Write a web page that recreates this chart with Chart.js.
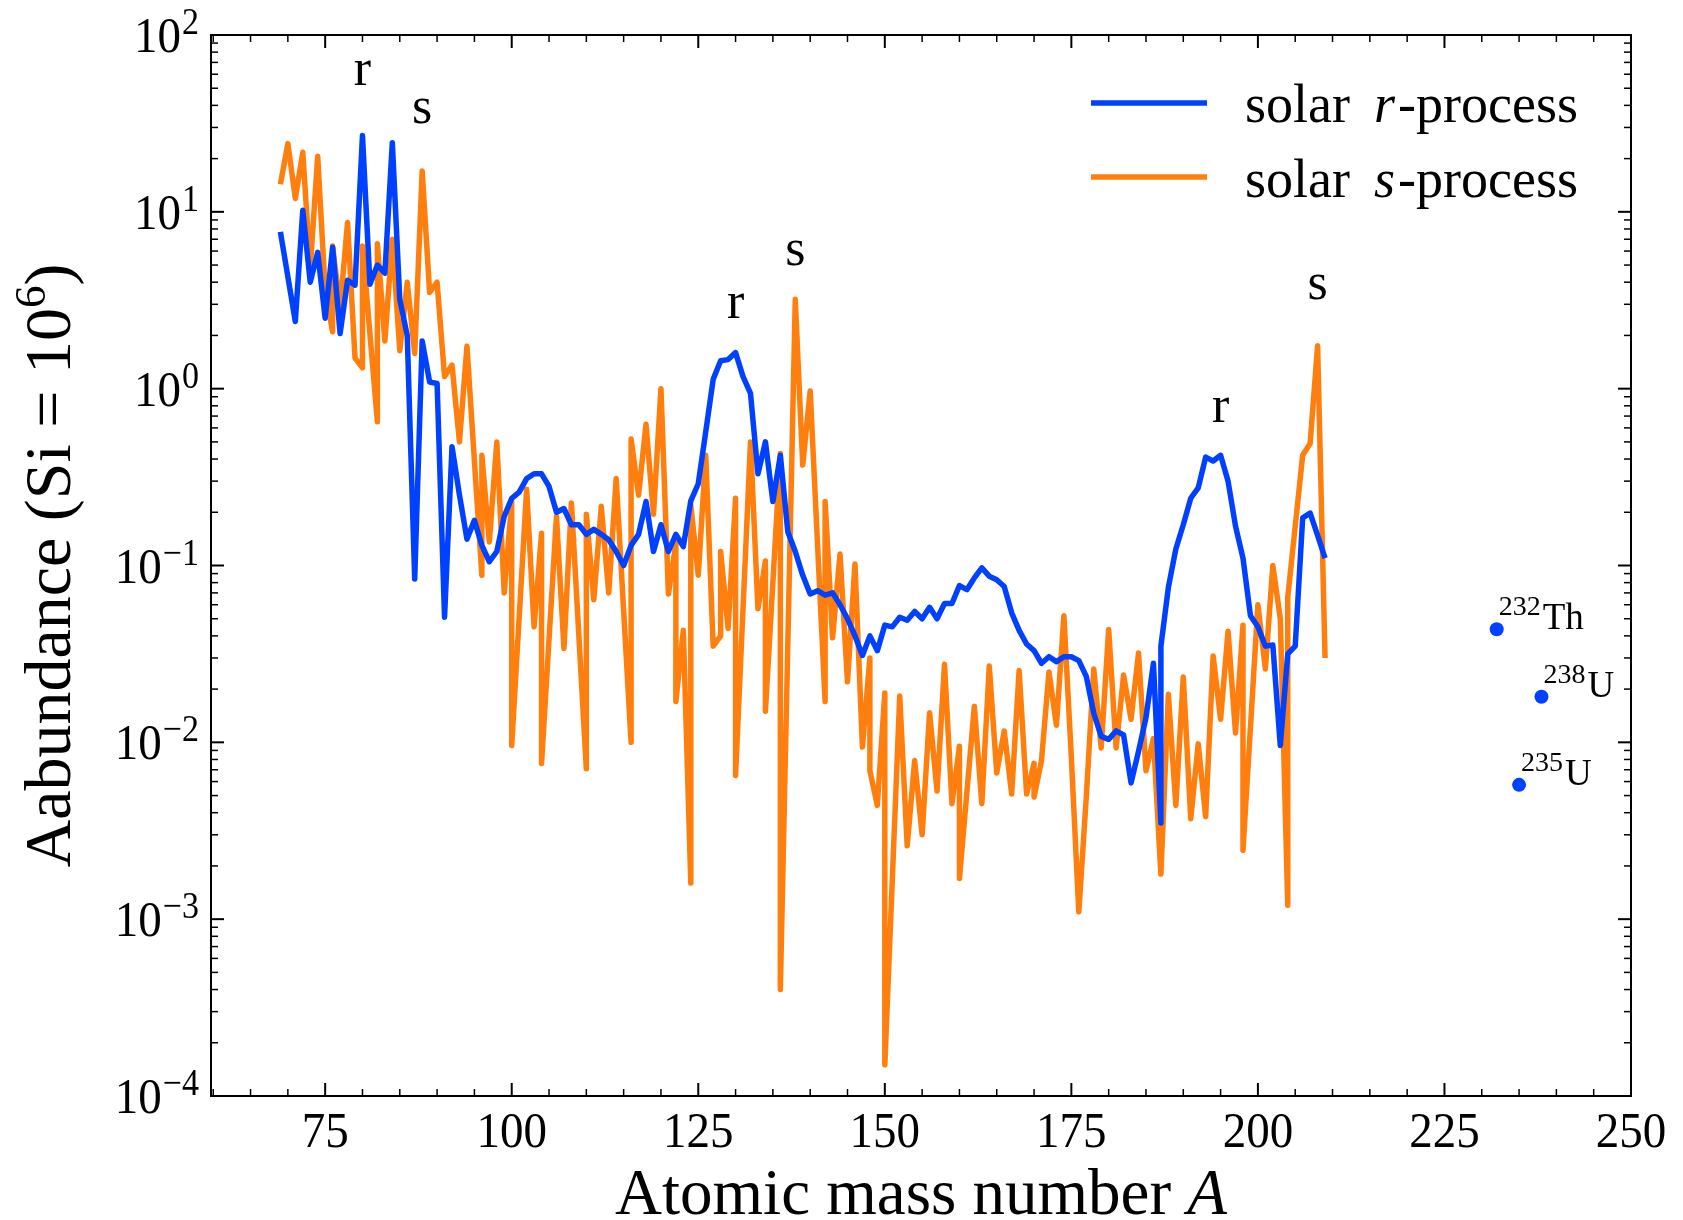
<!DOCTYPE html>
<html>
<head>
<meta charset="utf-8">
<title>Solar r- and s-process abundances</title>
<script src="https://cdn.jsdelivr.net/npm/chart.js@4.4.1/dist/chart.umd.min.js"></script>
<style>
  html, body { margin: 0; padding: 0; background: #fff; }
  canvas { display: block; }
</style>
</head>
<body>
<canvas id="abundances" width="1683" height="1220"></canvas>
<script>
// ===== DATA =====
// solar r-process (isotopes sorted by mass number; repeated A = isobars)
const rMass = [69,71,72,73,74,75,76,77,78,79,80,81,82,83,84,85,86,87,88,
  89,90,91,92,93,94,95,96,97,98,99,100,101,102,103,104,105,106,107,108,
  109,110,111,112,113,114,115,116,117,118,119,120,121,122,123,124,125,126,127,128,
  129,130,131,132,133,134,135,136,137,138,139,140,141,142,143,144,145,146,147,148,
  149,150,151,152,153,154,155,156,157,158,159,160,161,162,163,164,165,166,167,168,
  169,170,171,172,173,174,175,176,177,178,179,180,181,182,183,184,185,186,187,187,188,
  189,190,191,192,193,194,195,196,197,198,199,200,201,202,203,204,205,206,207,208,209];
const rAbund = [7.7,2.4,10.2,4.0,5.9,2.5,6.3,2.05,4.1,3.85,27,3.9,5.0,4.5,24.6,3.2,2.0,0.084,1.86,
  1.09,1.07,0.051,0.47,0.25,0.141,0.18,0.13,0.105,0.12,0.19,0.24,0.26,0.31,0.33,0.33,0.28,0.2,0.21,0.17,
  0.17,0.15,0.16,0.15,0.14,0.12,0.10,0.13,0.15,0.23,0.12,0.17,0.12,0.15,0.128,0.232,0.29,0.57,1.13,1.44,
  1.46,1.6,1.17,0.94,0.33,0.50,0.23,0.42,0.155,0.12,0.088,0.069,0.072,0.068,0.07,0.06,0.05,0.04,0.031,0.04,
  0.033,0.046,0.045,0.051,0.049,0.055,0.05,0.058,0.05,0.061,0.061,0.077,0.073,0.085,0.097,0.087,0.083,0.076,0.054,0.043,
  0.036,0.033,0.028,0.0305,0.0286,0.0305,0.0305,0.029,0.0236,0.0146,0.0108,0.0104,0.0116,0.011,0.0059,0.0089,0.0138,0.028,0.0035,0.035,0.075,
  0.124,0.17,0.24,0.275,0.41,0.39,0.42,0.30,0.167,0.11,0.052,0.045,0.035,0.0355,0.0096,0.0316,0.035,0.186,0.198,0.148,0.11];

// solar s-process
const sMass = [69,70,71,72,73,74,75,76,76,77,78,79,80,80,82,82,83,84,85,86,87,88,
  89,90,91,92,93,94,96,96,97,98,99,100,100,102,103,104,104,106,107,108,
  110,110,111,112,113,114,116,116,117,118,119,120,121,122,122,123,124,124,125,126,127,128,128,
  129,130,130,132,133,134,134,136,136,138,139,140,142,142,143,144,145,146,147,148,148,
  149,150,150,152,153,154,155,156,157,158,159,160,160,162,163,164,165,166,167,168,
  169,170,170,171,172,173,174,175,176,177,178,179,180,181,182,183,184,185,186,187,188,
  189,190,191,192,193,194,195,196,197,198,198,200,201,202,203,204,204,206,207,208,209];
const sAbund = [14.3,24.3,11.9,21.7,4.8,20.6,3.6,2.1,6.4,2.85,8.7,1.49,1.31,6.4,0.65,6.6,1.86,7.0,1.64,4.0,1.58,17,
  3.5,4.0,1.17,1.36,0.5,1.74,0.088,0.42,0.136,0.5,0.07,0.23,0.0096,0.27,0.045,0.152,0.0076,0.19,0.034,0.226,
  0.0071,0.195,0.064,0.216,0.070,0.31,0.010,0.52,0.25,0.63,0.195,1.0,0.069,0.133,0.017,0.043,0.0016,0.22,0.088,0.42,0.035,0.04,0.12,
  0.044,0.24,0.0065,0.5,0.057,0.106,0.015,0.43,0.0004,3.2,0.37,0.97,0.017,0.23,0.039,0.116,0.022,0.102,0.0094,0.030,0.0069,
  0.0044,0.019,0.00015,0.0183,0.0026,0.0079,0.003,0.0147,0.0053,0.0276,0.0045,0.0095,0.0017,0.016,0.0045,0.027,0.0067,0.0116,0.0051,0.0255,
  0.0051,0.0076,0.0049,0.0079,0.025,0.0125,0.052,0.0082,0.0011,0.0049,0.026,0.0093,0.0435,0.0093,0.024,0.0135,0.032,0.0069,0.0105,0.0018,0.0187,
  0.0044,0.0234,0.0037,0.0098,0.0038,0.0308,0.0135,0.0425,0.0113,0.046,0.00245,0.06,0.026,0.10,0.05,0.0012,0.066,0.42,0.49,1.75,0.03];

// long-lived actinides
const actA = [232, 238, 235];
const actAbund = [0.0436, 0.0181, 0.00575];
const actMass = ['232', '238', '235'];
const actSym = ['Th', 'U', 'U'];

// peak markers
const peakA = [80, 88, 130, 138, 195, 208];
const peakY = [52, 32, 2.5, 5, 0.65, 3.2];
const peakTxt = ['r', 's', 'r', 's', 'r', 's'];

// axes
const xTicks = [75, 100, 125, 150, 175, 200, 225, 250];
const yDecades = [-4, -3, -2, -1, 0, 1, 2];

const BLUE = '#0040ff', ORANGE = '#ff7f0e';
const SERIF = '"Liberation Serif", "Times New Roman", serif';
const LW = 5.5;

// ===== TEXT HELPERS =====
function txt(ctx, s, x, y, font, align, sy) {
    ctx.save();
    ctx.font = font;
    ctx.textAlign = align || 'left';
    ctx.textBaseline = 'alphabetic';
    ctx.translate(x, y);
    ctx.scale(1, sy || 1);
    ctx.fillText(s, 0, 0);
    ctx.restore();
}
function tw(ctx, s, font) {
    ctx.save(); ctx.font = font;
    const w = ctx.measureText(s).width;
    ctx.restore(); return w;
}
function seg(ctx, x1, y1, x2, y2) {
    ctx.beginPath(); ctx.moveTo(x1, y1); ctx.lineTo(x2, y2); ctx.stroke();
}

// ===== FRAME, TICKS, LABELS, LEGEND =====
const decorations = {
    id: 'decorations',
    afterDatasetsDraw(chart) {
        const {ctx, chartArea: a, scales: {x, y}} = chart;
        ctx.save();
        ctx.fillStyle = '#000';
        ctx.strokeStyle = '#000';

        // r / s peak labels
        peakTxt.forEach((t, i) => txt(ctx, t, x.getPixelForValue(peakA[i]), y.getPixelForValue(peakY[i]), '52px ' + SERIF, 'center'));

        // actinide labels
        actA.forEach((A, i) => {
            const px = x.getPixelForValue(A), py = y.getPixelForValue(actAbund[i]);
            const supF = '28px ' + SERIF, symF = '37px ' + SERIF;
            txt(ctx, actMass[i], px + 2, py - 14, supF);
            txt(ctx, actSym[i], px + 4 + tw(ctx, actMass[i], supF), py, symF);
        });

        // frame
        ctx.lineWidth = 2;
        ctx.strokeRect(a.left, a.top, a.right - a.left, a.bottom - a.top);

        // x ticks (inside, mirrored)
        for (let v = 60; v <= 250; v += 5) {
            const px = x.getPixelForValue(v);
            const major = xTicks.includes(v);
            const len = major ? 13 : 7;
            ctx.lineWidth = major ? 2 : 1.5;
            seg(ctx, px, a.bottom, px, a.bottom - len);
            seg(ctx, px, a.top, px, a.top + len);
        }
        // y ticks
        yDecades.forEach(d => {
            const py = y.getPixelForValue(Math.pow(10, d));
            ctx.lineWidth = 2;
            seg(ctx, a.left, py, a.left + 13, py);
            seg(ctx, a.right, py, a.right - 13, py);
            if (d < 2) {
                ctx.lineWidth = 1.5;
                for (let m = 2; m <= 9; m++) {
                    const pm = y.getPixelForValue(m * Math.pow(10, d));
                    seg(ctx, a.left, pm, a.left + 7, pm);
                    seg(ctx, a.right, pm, a.right - 7, pm);
                }
            }
        });

        // x tick labels
        xTicks.forEach(v => txt(ctx, String(v), x.getPixelForValue(v), 1147, '47px ' + SERIF, 'center', 1.1));

        // y tick labels 10^d
        yDecades.forEach(d => {
            const py = y.getPixelForValue(Math.pow(10, d));
            const sup = d < 0 ? '\u2212' + (-d) : String(d);
            const supF = '34px ' + SERIF, baseF = '47px ' + SERIF;
            const right = a.left - 12;
            const sw = tw(ctx, sup, supF);
            txt(ctx, sup, right - sw, py - 1, supF, 'left', 1.1);
            txt(ctx, '10', right - sw - 1, py + 17, baseF, 'right', 1.1);
        });

        // axis titles
        const tF = '65px ' + SERIF;
        const p1 = 'Atomic mass number ';
        const w1 = tw(ctx, p1, tF), w2 = tw(ctx, 'A', 'italic ' + tF);
        const cx = (a.left + a.right) / 2;
        txt(ctx, p1, cx - (w1 + w2) / 2, 1214, tF);
        txt(ctx, 'A', cx - (w1 + w2) / 2 + w1, 1214, 'italic ' + tF);

        ctx.save();
        ctx.translate(70, (a.top + a.bottom) / 2);
        ctx.rotate(-Math.PI / 2);
        const yF = '66px ' + SERIF, ySup = '45px ' + SERIF;
        const q1 = 'Aabundance (Si = 10', q2 = '6', q3 = ')';
        const wq1 = tw(ctx, q1, yF), wq2 = tw(ctx, q2, ySup), wq3 = tw(ctx, q3, yF);
        let sx = -(wq1 + wq2 + wq3) / 2;
        txt(ctx, q1, sx, 0, yF); sx += wq1;
        txt(ctx, q2, sx, -25, ySup); sx += wq2;
        txt(ctx, q3, sx, 0, yF);
        ctx.restore();

        // legend
        const legF = '54px ' + SERIF;
        [['r', BLUE, 103, 122], ['s', ORANGE, 177, 197]].forEach(([p, col, ly, tb]) => {
            ctx.strokeStyle = col; ctx.lineWidth = LW;
            seg(ctx, 1091, ly, 1207, ly);
            let lx = 1245;
            txt(ctx, 'solar', lx, tb, legF); lx += tw(ctx, 'solar', legF) + 24;
            txt(ctx, p, lx, tb, 'italic ' + legF); lx += tw(ctx, p, 'italic ' + legF) + 3;
            txt(ctx, '-process', lx, tb, legF);
        });
        ctx.restore();
    }
};

// ===== CHART =====
new Chart(document.getElementById('abundances').getContext('2d'), {
    type: 'line',
    data: {
        datasets: [
            {label: 'solar r-process', data: rMass.map((A, i) => ({x: A, y: rAbund[i]})),
             borderColor: BLUE, borderWidth: LW, pointRadius: 0, tension: 0, fill: false,
             borderJoinStyle: 'round'},
            {label: 'solar s-process', data: sMass.map((A, i) => ({x: A, y: sAbund[i]})),
             borderColor: ORANGE, borderWidth: LW, pointRadius: 0, tension: 0, fill: false,
             borderJoinStyle: 'round'},
            {type: 'scatter', label: 'actinides', data: actA.map((A, i) => ({x: A, y: actAbund[i]})),
             backgroundColor: BLUE, borderWidth: 0, pointRadius: 7}
        ]
    },
    options: {
        responsive: false,
        devicePixelRatio: 1,
        animation: false,
        layout: {padding: {left: 211, top: 35, right: 52, bottom: 124}},
        plugins: {legend: {display: false}, tooltip: {enabled: false}},
        scales: {
            x: {type: 'linear', min: 59.7, max: 250, display: false},
            y: {type: 'logarithmic', min: 1e-4, max: 100, display: false}
        }
    },
    plugins: [decorations]
});
</script>
</body>
</html>
